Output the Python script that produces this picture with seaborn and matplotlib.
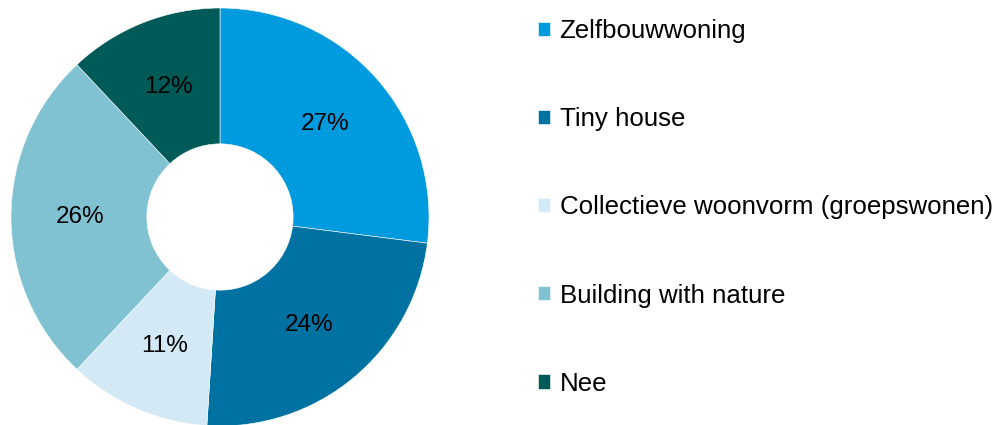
import matplotlib.pyplot as plt
import seaborn as sns

labels = ["Zelfbouwwoning", "Tiny house", "Collectieve woonvorm (groepswonen)",
          "Building with nature", "Nee"]
values = [27, 24, 11, 26, 12]
colors = ["#009ADE", "#0072A1", "#D3E9F5", "#80C2D1", "#005A58"]

sns.set_theme(style="white")
plt.rcParams['font.family'] = ['Liberation Sans', 'DejaVu Sans']
plt.rcParams['text.color'] = 'black'

fig = plt.figure(figsize=(9.94, 4.25), dpi=100)
ax = fig.add_axes([11/994, -1/425, 418/994, 418/425])

wedges, texts, autotexts = ax.pie(
    values, colors=colors, startangle=90, counterclock=False,
    autopct=lambda p: f"{p:.0f}%", pctdistance=0.67, radius=1,
    wedgeprops=dict(width=0.65, edgecolor="white", linewidth=0.4),
    textprops=dict(fontsize=17.5, color="black"))
ax.set_xlim(-1, 1)
ax.set_ylim(-1, 1)
ax.set_aspect("equal")

fig.legend(wedges, labels, loc="upper left", bbox_to_anchor=(528/994, 1 - 9/425),
           frameon=False, fontsize=18.6, handlelength=0.47, handleheight=0.47,
           handletextpad=0.35, labelspacing=2.48, borderaxespad=0,
           labelcolor="black")

fig.savefig("out.png", dpi=100)
